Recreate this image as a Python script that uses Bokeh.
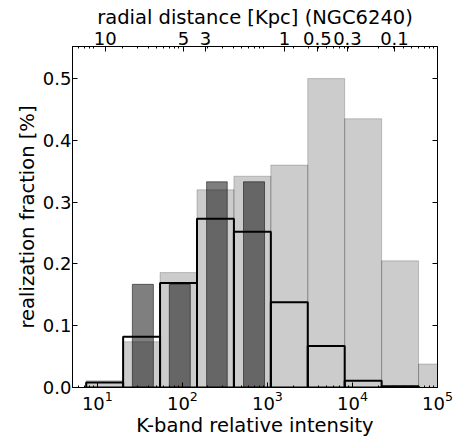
import numpy as np
from bokeh.plotting import figure
from bokeh.models import LogAxis, LinearAxis, FixedTicker, Range1d, PrintfTickFormatter
from bokeh.embed import file_html
from bokeh.resources import INLINE

# ---- data ----
# histogram bin edges, in natural-log units of K-band relative intensity
ln_edges = [2, 3, 4, 5, 6, 7, 8, 9, 10, 11, 12]
# light grey histogram (all realizations)
light_frac = [0.011, 0.074, 0.186, 0.320, 0.342, 0.360, 0.500, 0.435, 0.205, 0.038]
# black outline histogram
outline_frac = [0.008, 0.082, 0.169, 0.273, 0.252, 0.138, 0.067, 0.011, 0.002]
# dark grey narrow bars
dark_left_ln = [3.25, 4.25, 5.26, 6.26]
dark_right_ln = [3.82, 4.82, 5.82, 6.83]
dark_frac = [0.167, 0.167, 0.333, 0.333]

# axes ticks
x_ticks = [10, 100, 1000, 10000, 100000]
y_ticks = [0.0, 0.1, 0.2, 0.3, 0.4, 0.5]
top_tick_intensity = [12.4, 103.0, 187.0, 1585.0, 3870.0, 8730.0, 31200.0]
top_tick_labels = ["10", "5", "3", "1", "0.5", "0.3", "0.1"]

FONT = "DejaVu Sans"
TICK_FS = "18px"
LABEL_FS = "19.5px"

edges = np.exp(np.array(ln_edges, dtype=float))

p = figure(x_axis_type="log", x_range=Range1d(5.1, 1e5), y_range=Range1d(0, 0.552),
           frame_width=365, frame_height=341,
           min_border_left=72, min_border_right=31, min_border_top=46, min_border_bottom=54,
           output_backend="svg", toolbar_location=None)
p.grid.visible = False
p.outline_line_color = "black"
p.outline_line_alpha = 1.0
p.background_fill_color = "white"
p.border_fill_color = "white"

# light grey bars
p.quad(left=edges[:-1], right=edges[1:], bottom=0, top=light_frac,
       fill_color="black", fill_alpha=0.2, line_color="black", line_alpha=0.2, line_width=1)
# dark bars
p.quad(left=np.exp(dark_left_ln), right=np.exp(dark_right_ln), bottom=0, top=dark_frac,
       fill_color="black", fill_alpha=0.5, line_color="black", line_alpha=0.5, line_width=1)
# black outline bars
n = len(outline_frac)
p.quad(left=edges[:n], right=edges[1:n + 1], bottom=0, top=outline_frac,
       fill_alpha=0, line_color="black", line_width=2)

minor = [m * 10.0 ** k for k in range(0, 5) for m in range(2, 10)]

def style(ax):
    ax.axis_line_color = "black"
    ax.major_tick_line_color = "black"
    ax.minor_tick_line_color = "black"
    ax.major_tick_in = 5
    ax.major_tick_out = 0
    ax.minor_tick_in = 2
    ax.minor_tick_out = 0
    ax.major_label_text_font = FONT
    ax.major_label_text_font_size = TICK_FS
    ax.major_label_text_color = "black"
    ax.major_label_text_line_height = 1.0
    ax.axis_label_text_font = FONT
    ax.axis_label_text_font_size = LABEL_FS
    ax.axis_label_text_font_style = "normal"
    ax.axis_label_text_color = "black"
    ax.axis_label_text_line_height = 1.0

# bottom axis
xa = p.xaxis[0]
style(xa)
xa.ticker = FixedTicker(ticks=x_ticks, minor_ticks=minor)
xa.axis_label = "K-band relative intensity"
xa.major_label_standoff = 3
xa.axis_label_standoff = 1

# left axis
ya = p.yaxis[0]
style(ya)
ya.ticker = FixedTicker(ticks=y_ticks)
ya.formatter = PrintfTickFormatter(format="%.1f")
ya.axis_label = "realization fraction [%]"
ya.minor_tick_line_color = None
ya.major_label_standoff = 1
ya.axis_label_standoff = 1

# right axis (ticks only)
ra = LinearAxis(ticker=FixedTicker(ticks=y_ticks))
style(ra)
ra.major_label_text_alpha = 0
ra.major_label_text_font_size = "1px"
ra.minor_tick_line_color = None
p.add_layout(ra, "right")

# top axis (radial distance)
ta = LogAxis(ticker=FixedTicker(ticks=top_tick_intensity, minor_ticks=minor),
             major_label_overrides={v: s for v, s in zip(top_tick_intensity, top_tick_labels)})
style(ta)
ta.axis_label = "radial distance [Kpc] (NGC6240)"
ta.major_label_standoff = 2
ta.axis_label_standoff = 0
p.add_layout(ta, "above")

open("out.html", "w").write(file_html(p, INLINE))
